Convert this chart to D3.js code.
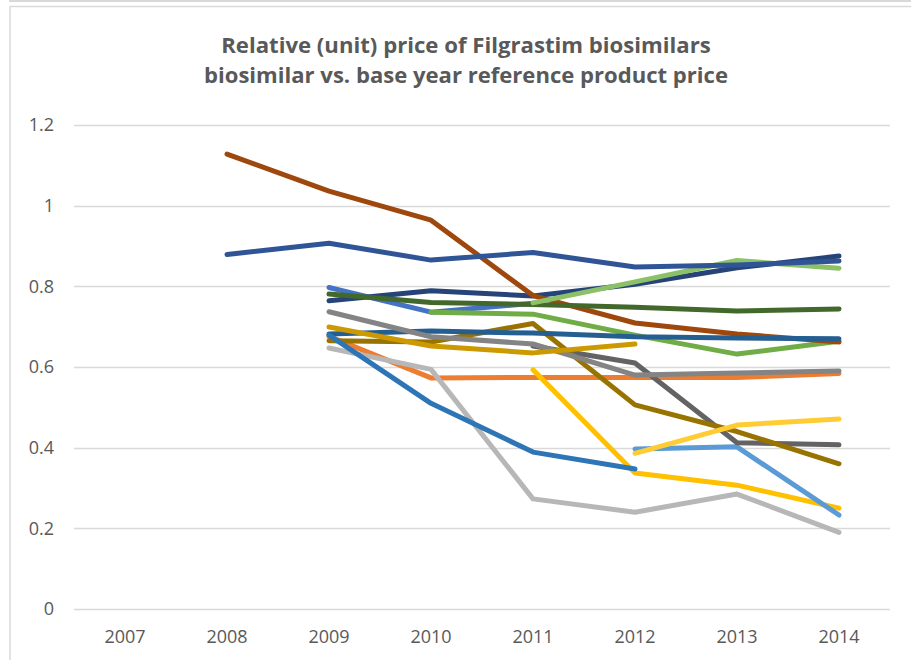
<!DOCTYPE html>
<html>
<head>
<meta charset="utf-8">
<script src="https://cdn.jsdelivr.net/npm/d3@7"></script>
<style>
  body { margin: 0; background: #fff; }
  text { font-family: "Open Sans", sans-serif; }
</style>
</head>
<body>
<script>
// Chart size
var svgWidth = 911;
var svgHeight = 660;

var margin = { top: 125, right: 21, bottom: 51, left: 74 };

// Data
var years = ["2007", "2008", "2009", "2010", "2011", "2012", "2013", "2014"];
var yTicks = [0, 0.2, 0.4, 0.6, 0.8, 1, 1.2];
var titleLines = [
  "Relative (unit) price of Filgrastim biosimilars",
  "biosimilar vs. base year reference product price"
];

var lightBlue   = [null, null, 0.797, 0.736, 0.758, null, null, null];
var orange      = [null, null, 0.676, 0.573, 0.574, 0.574, 0.574, 0.584];
var lightGrey   = [null, null, 0.647, 0.594, 0.273, 0.240, 0.285, 0.190];
var yellow      = [null, null, null, null, 0.593, 0.337, 0.307, 0.250];
var skyBlue     = [null, null, null, null, null, 0.397, 0.402, 0.233];
var green       = [null, null, null, 0.736, 0.731, 0.679, 0.632, 0.664];
var navy        = [null, null, 0.764, 0.789, 0.776, 0.805, 0.846, 0.875];
var brown       = [null, 1.128, 1.036, 0.964, 0.777, 0.709, 0.682, 0.662];
var darkGrey    = [null, null, null, null, 0.652, 0.610, 0.412, 0.407];
var olive       = [null, null, 0.665, 0.662, 0.708, 0.506, 0.440, 0.360];
var steelBlue   = [null, null, 0.682, 0.689, 0.684, 0.675, 0.672, 0.670];
var darkGreen   = [null, null, 0.781, 0.760, 0.755, 0.748, 0.739, 0.744];
var midGrey     = [null, null, 0.737, 0.675, 0.657, 0.580, 0.585, 0.590];
var paleYellow  = [null, null, null, null, null, 0.386, 0.456, 0.471];
var paleGreen   = [null, null, null, null, 0.759, 0.811, 0.864, 0.845];
var royalBlue   = [null, 0.879, 0.907, 0.865, 0.884, 0.848, 0.853, 0.863];
var gold        = [null, null, 0.699, 0.652, 0.635, 0.657, null, null];
var blue        = [null, null, 0.679, 0.510, 0.389, 0.347, null, null];

var seriesList = [
  { values: lightBlue,  color: "#4472C4" },
  { values: orange,     color: "#ED7D31" },
  { values: lightGrey,  color: "#B7B7B7" },
  { values: yellow,     color: "#FFC000" },
  { values: skyBlue,    color: "#5B9BD5" },
  { values: green,      color: "#70AD47" },
  { values: navy,       color: "#264478" },
  { values: brown,      color: "#9E480E" },
  { values: darkGrey,   color: "#636363" },
  { values: olive,      color: "#997300" },
  { values: steelBlue,  color: "#255E91" },
  { values: darkGreen,  color: "#43682B" },
  { values: midGrey,    color: "#848484" },
  { values: paleYellow, color: "#FFCD33" },
  { values: paleGreen,  color: "#8CC168" },
  { values: royalBlue,  color: "#2F5597" },
  { values: gold,       color: "#CC9A00" },
  { values: blue,       color: "#2E75B6" }
];

var chartWidth = svgWidth - margin.left - margin.right;
var chartHeight = svgHeight - margin.top - margin.bottom; // 484

var svg = d3.select("body")
  .append("svg")
  .attr("width", svgWidth)
  .attr("height", svgHeight);

// chart frame (light border like the spreadsheet)
svg.append("line").attr("x1", 9).attr("x2", svgWidth).attr("y1", 1).attr("y2", 1)
  .attr("stroke", "#d9d9d9").attr("stroke-width", 2);
svg.append("line").attr("x1", 10).attr("x2", svgWidth).attr("y1", 6.5).attr("y2", 6.5)
  .attr("stroke", "#d9d9d9").attr("stroke-width", 1.5);
svg.append("line").attr("x1", 10).attr("x2", 10).attr("y1", 6).attr("y2", svgHeight)
  .attr("stroke", "#d9d9d9").attr("stroke-width", 1.5);

var chartGroup = svg.append("g")
  .attr("transform", `translate(${margin.left}, ${margin.top})`);

var xScale = d3.scaleBand()
  .domain(years)
  .range([0, chartWidth]);

var yScale = d3.scaleLinear()
  .domain([0, 1.2])
  .range([chartHeight, 0]);

// gridlines
chartGroup.append("g")
  .selectAll("line")
  .data(yTicks)
  .join("line")
  .attr("x1", 0)
  .attr("x2", chartWidth)
  .attr("y1", d => Math.round(yScale(d)) + 0.5)
  .attr("y2", d => Math.round(yScale(d)) + 0.5)
  .attr("stroke", "#d9d9d9")
  .attr("stroke-width", 1.3);

// y axis labels
var leftAxis = d3.axisLeft(yScale).tickValues(yTicks).tickSize(0).tickPadding(20)
  .tickFormat(d => String(d));
chartGroup.append("g")
  .call(leftAxis)
  .call(g => g.select(".domain").remove())
  .selectAll("text")
  .attr("fill", "#595959")
  .style("font-size", "18px")
  .style("font-family", "'Open Sans', sans-serif");

// x axis labels
var bottomAxis = d3.axisBottom(xScale).tickSize(0).tickPadding(21);
chartGroup.append("g")
  .attr("transform", `translate(0, ${chartHeight})`)
  .call(bottomAxis)
  .call(g => g.select(".domain").remove())
  .selectAll("text")
  .attr("fill", "#595959")
  .style("font-size", "18px")
  .style("font-family", "'Open Sans', sans-serif");

// lines
var drawLine = d3.line()
  .defined(d => d != null)
  .x((d, i) => xScale(years[i]) + xScale.bandwidth() / 2)
  .y(d => yScale(d));

seriesList.forEach(function(s) {
  chartGroup.append("path")
    .attr("d", drawLine(s.values))
    .attr("stroke", s.color)
    .attr("stroke-width", 5)
    .attr("stroke-linecap", "round")
    .attr("stroke-linejoin", "round")
    .style("fill", "none");
});

// title, fitted to the width seen in the picture
var titleWidths = [490, 524];
titleLines.forEach(function(t, i) {
  var txt = svg.append("text")
    .attr("x", 466)
    .attr("y", 53 + i * 30)
    .attr("text-anchor", "middle")
    .attr("fill", "#595959")
    .style("font-weight", "bold")
    .style("font-size", "20px")
    .text(t);
  var w = txt.node().getComputedTextLength();
  txt.style("font-size", (20 * titleWidths[i] / w).toFixed(2) + "px");
});
</script>
</body>
</html>
